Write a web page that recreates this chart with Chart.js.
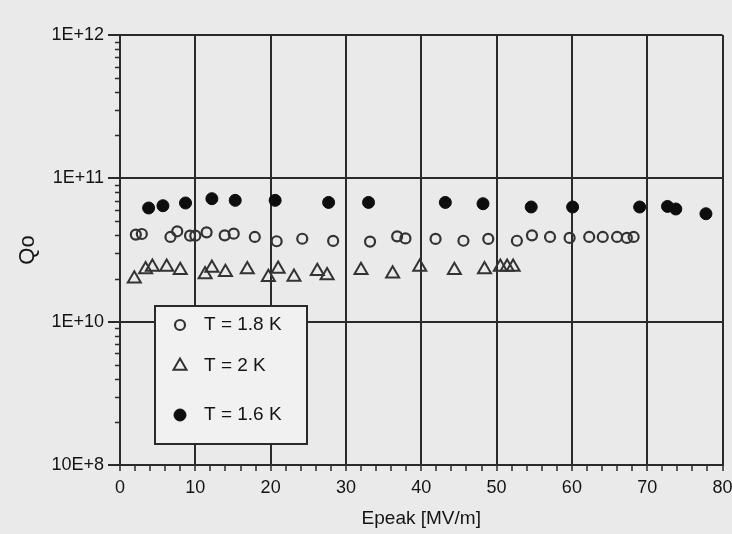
<!DOCTYPE html>
<html>
<head>
<meta charset="utf-8">
<title>Qo vs Epeak</title>
<script src="https://cdn.jsdelivr.net/npm/chart.js@4"></script>
<style>
  html, body { margin: 0; padding: 0; background: #ebebeb; }
  canvas { display: block; }
</style>
</head>
<body>
<canvas id="qChart" width="732" height="534"></canvas>
<script>
// Values (Epeak in MV/m, Qo)
const epeak18 = [2.1, 2.9, 6.7, 7.6, 9.3, 10.0, 11.5, 13.9, 15.1, 17.9, 20.8, 24.2, 28.3, 33.2,
                 36.8, 37.9, 41.9, 45.6, 48.9, 52.7, 54.7, 57.1, 59.7, 62.3, 64.1, 66.0, 67.3, 68.2];
const q18 = [4.05e10, 4.09e10, 3.90e10, 4.27e10, 3.98e10, 3.98e10, 4.20e10, 4.00e10, 4.11e10, 3.90e10,
             3.64e10, 3.79e10, 3.66e10, 3.62e10, 3.94e10, 3.81e10, 3.78e10, 3.67e10, 3.78e10, 3.67e10,
             4.00e10, 3.90e10, 3.84e10, 3.90e10, 3.90e10, 3.90e10, 3.84e10, 3.90e10];

const epeak2 = [1.9, 3.4, 4.3, 6.2, 8.0, 11.3, 12.2, 14.0, 16.9, 19.7, 21.0, 23.1, 26.2, 27.5,
                32.0, 36.2, 39.8, 44.4, 48.4, 50.5, 51.4, 52.2];
const q2 = [1.99e10, 2.31e10, 2.41e10, 2.41e10, 2.28e10, 2.13e10, 2.37e10, 2.21e10, 2.31e10, 2.04e10,
            2.33e10, 2.05e10, 2.25e10, 2.10e10, 2.28e10, 2.16e10, 2.41e10, 2.28e10, 2.31e10, 2.41e10,
            2.41e10, 2.41e10];

const epeak16 = [3.8, 5.7, 8.7, 12.2, 15.3, 20.6, 27.7, 33.0, 43.2, 48.2, 54.6, 60.1, 69.0, 72.7, 73.8, 77.8];
const q16 = [6.21e10, 6.44e10, 6.73e10, 7.21e10, 7.02e10, 7.02e10, 6.79e10, 6.79e10, 6.79e10, 6.65e10,
             6.31e10, 6.31e10, 6.31e10, 6.37e10, 6.11e10, 5.66e10];

const seriesLabels = ['T = 1.8 K', 'T = 2 K', 'T = 1.6 K'];

// y axis decades and the labels printed next to them
const yDecades = [1e9, 1e10, 1e11, 1e12];
const yTickLabels = ['10E+8', '1E+10', '1E+11', '1E+12'];

const ink = '#2a2a2a';
const textInk = '#141414';
const clear = 'rgba(0,0,0,0)';
const fontFamily = '"Liberation Sans", Arial, Helvetica, sans-serif';

const toPoints = (xs, ys) => xs.map((x, i) => ({ x: x, y: ys[i] }));
const isDecade = v => Math.abs(Math.log10(v) - Math.round(Math.log10(v))) < 1e-9;

// paper-coloured background
const paper = {
    id: 'paper',
    beforeDraw(chart) {
        const ctx = chart.ctx;
        ctx.save();
        ctx.fillStyle = '#eaeaea';
        ctx.fillRect(0, 0, chart.width, chart.height);
        ctx.restore();
    }
};

// short minor ticks on the log axis
const minorTicks = {
    id: 'minorTicks',
    afterDraw(chart) {
        const ctx = chart.ctx;
        const y = chart.scales.y;
        const left = chart.chartArea.left;
        ctx.save();
        ctx.strokeStyle = ink;
        ctx.lineWidth = 1.5;
        y.ticks.forEach(t => {
            if (isDecade(t.value)) return;
            const py = Math.round(y.getPixelForValue(t.value)) + 0.5;
            ctx.beginPath();
            ctx.moveTo(left - 5, py);
            ctx.lineTo(left, py);
            ctx.stroke();
        });
        ctx.restore();
    }
};

// boxed legend sitting inside the plot
const boxLegend = {
    id: 'boxLegend',
    afterDraw(chart) {
        const ctx = chart.ctx;
        const box = { x: 155, y: 306, w: 152, h: 138 };
        const rows = [325, 366, 415];
        ctx.save();
        ctx.fillStyle = '#f1f1f1';
        ctx.fillRect(box.x, box.y, box.w, box.h);
        ctx.strokeStyle = ink;
        ctx.lineWidth = 2;
        ctx.strokeRect(box.x, box.y, box.w, box.h);
        chart.data.datasets.forEach((ds, i) => {
            ctx.fillStyle = ds.pointBackgroundColor;
            ctx.strokeStyle = ds.pointBorderColor;
            ctx.lineWidth = ds.pointBorderWidth;
            Chart.helpers.drawPoint(ctx, {
                pointStyle: ds.pointStyle,
                radius: ds.pointRadius,
                rotation: 0,
                borderWidth: ds.pointBorderWidth
            }, 180, rows[i]);
            ctx.fillStyle = textInk;
            ctx.font = '19px ' + fontFamily;
            ctx.textBaseline = 'middle';
            ctx.textAlign = 'left';
            ctx.fillText(ds.label, 204, rows[i]);
        });
        ctx.restore();
    }
};

const data = {
    datasets: [{
        label: seriesLabels[0],
        data: toPoints(epeak18, q18),
        pointStyle: 'circle',
        pointRadius: 5,
        pointBorderWidth: 2.2,
        pointBorderColor: '#333',
        pointBackgroundColor: clear
    }, {
        label: seriesLabels[1],
        data: toPoints(epeak2, q2),
        pointStyle: 'triangle',
        pointRadius: 7.5,
        pointBorderWidth: 2,
        pointBorderColor: '#333',
        pointBackgroundColor: clear
    }, {
        label: seriesLabels[2],
        data: toPoints(epeak16, q16),
        pointStyle: 'circle',
        pointRadius: 6,
        pointBorderWidth: 1,
        pointBorderColor: '#0d0d0d',
        pointBackgroundColor: '#0d0d0d'
    }]
};

const config = {
    type: 'scatter',
    data: data,
    options: {
        responsive: false,
        animation: false,
        layout: { padding: { top: 35, right: 5, left: 0, bottom: 0 } },
        plugins: {
            legend: { display: false },
            tooltip: { enabled: false }
        },
        scales: {
            x: {
                type: 'linear',
                min: 0,
                max: 80,
                afterFit: s => { s.height = 69; s.paddingLeft = 0; s.paddingRight = 0; },
                border: { color: ink, width: 2 },
                grid: {
                    color: c => (c.tick && c.tick.value % 10 === 0) ? ink : clear,
                    lineWidth: 2,
                    tickLength: 6,
                    tickColor: ink,
                    tickWidth: 1.5
                },
                ticks: {
                    stepSize: 2,
                    autoSkip: false,
                    maxRotation: 0,
                    padding: 6,
                    color: textInk,
                    font: { family: fontFamily, size: 18 },
                    callback: v => v % 10 === 0 ? String(v) : ''
                },
                title: {
                    display: true,
                    text: 'Epeak [MV/m]',
                    color: textInk,
                    font: { family: fontFamily, size: 19 },
                    padding: { top: 0, bottom: 4 }
                }
            },
            y: {
                type: 'logarithmic',
                min: 1e9,
                max: 1e12,
                afterBuildTicks: s => {
                    const ticks = [];
                    for (let d = 0; d < yDecades.length - 1; d++) {
                        for (let m = 1; m < 10; m++) ticks.push({ value: yDecades[d] * m });
                    }
                    ticks.push({ value: yDecades[yDecades.length - 1] });
                    s.ticks = ticks;
                },
                afterFit: s => { s.width = 120; s.paddingTop = 0; s.paddingBottom = 0; },
                border: { color: ink, width: 2 },
                grid: {
                    color: c => (c.tick && isDecade(c.tick.value)) ? ink : clear,
                    lineWidth: 2,
                    tickLength: 12,
                    tickColor: c => (c.tick && isDecade(c.tick.value)) ? ink : clear
                },
                ticks: {
                    autoSkip: false,
                    padding: 4,
                    color: textInk,
                    font: { family: fontFamily, size: 18 },
                    callback: v => {
                        const i = yDecades.findIndex(d => Math.abs(d - v) / d < 1e-9);
                        return i >= 0 ? yTickLabels[i] : '';
                    }
                },
                title: {
                    display: true,
                    text: 'Qo',
                    color: textInk,
                    font: { family: fontFamily, size: 22 },
                    padding: { top: 15, bottom: 0 }
                }
            }
        }
    },
    plugins: [paper, minorTicks, boxLegend]
};

const qChart = new Chart(document.getElementById('qChart'), config);
</script>
</body>
</html>
